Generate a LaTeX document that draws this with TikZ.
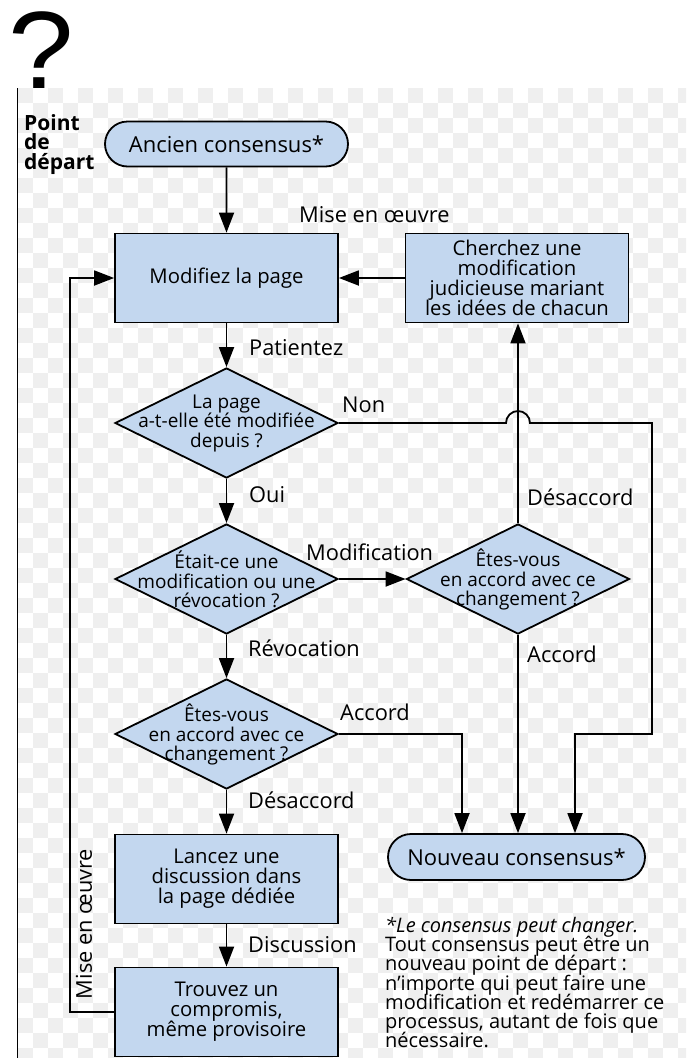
\documentclass[tikz,border=0pt]{standalone}
\usepackage{fontspec}
\setmainfont{Open Sans}
\newfontfamily\qfont{Liberation Sans}
\usetikzlibrary{arrows.meta,shapes.geometric,shapes.misc}
\definecolor{boxblue}{RGB}{195,215,239}
\definecolor{checkgray}{RGB}{239,239,239}
\newcommand{\tightfont}[2]{\fontsize{#1}{#2}\selectfont\lineskiplimit=-50pt\lineskip=0pt}
\newcommand{\flattext}[1]{\raisebox{-0.25em}[0pt][0pt]{\makebox[0pt]{$\vcenter{\lineskiplimit=-50pt\let\\\cr\halign{\hfil##\hfil\cr#1\cr}}$}}}
\begin{document}
\begin{tikzpicture}[x=1pt,y=-1pt]
\tikzstyle{every node}+=[inner sep=0pt]
\tikzstyle{flow}=[draw=black,line width=1.8pt,fill=boxblue,minimum width=223pt,minimum height=89pt,align=center,font=\tightfont{20.3}{20}]
\tikzstyle{term}=[draw=black,line width=1.8pt,fill=boxblue,rounded rectangle,minimum width=243pt,minimum height=45pt,font=\tightfont{22}{24}]
\tikzstyle{query}=[draw=black,line width=1.8pt,fill=boxblue,diamond,minimum width=223pt,minimum height=110pt,font=\tightfont{19}{19.5}]
\tikzstyle{tag}=[anchor=west,font=\tightfont{21.8}{24}]
\tikzstyle{link}=[line width=1.8pt,-{Triangle[length=20pt,width=15pt]}]
\useasboundingbox (0,0) rectangle (686,1058);
\begin{scope}
\clip (18,88) rectangle (686,1058);
\foreach \j in {0,...,64}{\foreach \i in {0,...,22}{\fill[checkgray] ({18+(2*\i+mod(\j,2))*15},{88+15*\j}) rectangle ++(15,15);}}
\end{scope}
\draw[line width=1.5pt] (17.5,88) -- (17.5,1058);
\node[anchor=base west,xscale=1.07,font=\qfont\fontsize{110}{110}\selectfont] (quest) at (8,88) {?};
\node[anchor=north west,align=left,font=\bfseries\tightfont{21}{19.5}] (depart) at (24,114) {Point\\de\\départ};
\node[term] (ancien) at (226.5,144) {Ancien consensus*};
\node[flow] (modif) at (226.5,278) {Modifiez la page};
\node[flow] (cherche) at (517,278) {Cherchez une\\modification\\judicieuse mariant\\les idées de chacun};
\node[query] (depuis) at (226.5,423) {\flattext{La page\\a-t-elle été modifiée\\depuis ?}};
\node[query] (nature) at (226.5,579) {\flattext{Était-ce une\\modification ou une\\révocation ?}};
\node[query] (avisdroite) at (518,579) {\flattext{Êtes-vous\\en accord avec ce\\changement ?}};
\node[query] (avisgauche) at (226.5,734) {\flattext{Êtes-vous\\en accord avec ce\\changement ?}};
\node[term,minimum width=257pt,minimum height=46pt] (nouveau) at (516.5,857) {Nouveau consensus*};
\node[flow] (lancez) at (226.5,879) {Lancez une\\discussion dans\\la page dédiée};
\node[flow] (trouvez) at (226.5,1012) {Trouvez un\\compromis,\\même provisoire};
\node[tag] (misetop) at (299,215) {Mise en œuvre};
\node[tag] (patientez) at (249,348) {Patientez};
\node[tag] (non) at (342,405) {Non};
\node[tag] (oui) at (249,495) {Oui};
\node[tag] (modlab) at (306,552) {Modification};
\node[tag] (desdroite) at (527,497) {Désaccord};
\node[tag] (revoc) at (248,648) {Révocation};
\node[tag] (accdroite) at (527,654) {Accord};
\node[tag] (accgauche) at (340,712) {Accord};
\node[tag] (desgauche) at (248,800) {Désaccord};
\node[tag] (discuss) at (248,945) {Discussion};
\node[tag,rotate=90,anchor=center] (misegauche) at (84,924) {Mise en œuvre};
\node[anchor=north west,align=left,font=\tightfont{20}{19.2}] (note) at (385,917) {\textit{*Le consensus peut changer.}\\Tout consensus peut être un\\nouveau point de départ :\\n'importe qui peut faire une\\modification et redémarrer ce\\processus, autant de fois que\\nécessaire.};
\draw[link] (ancien) -- (modif);
\draw[link] (cherche) -- (modif);
\draw[link] (modif) -- (depuis);
\draw[link] (depuis) -- (nature);
\draw[link] (nature) -- (avisdroite);
\draw[link] (nature) -- (avisgauche);
\draw[link] (avisgauche) -- (lancez);
\draw[link] (lancez) -- (trouvez);
\draw[link] (avisdroite.north) -- (avisdroite.north |- cherche.south);
\draw[link] (avisdroite.south) -- (avisdroite.south |- nouveau.north);
\draw[link] (avisgauche.east) -- (462,734) -- (462,734 |- nouveau.north);
\draw[link] (depuis.east) -- (506,423) arc[start angle=180,end angle=360,radius=12] -- (652,423) -- (652,734) -- (575,734) -- (575,734 |- nouveau.north);
\draw[link] (trouvez.west) -- (70,1012) -- (70,278) -- (modif.west);
\end{tikzpicture}
\end{document}
